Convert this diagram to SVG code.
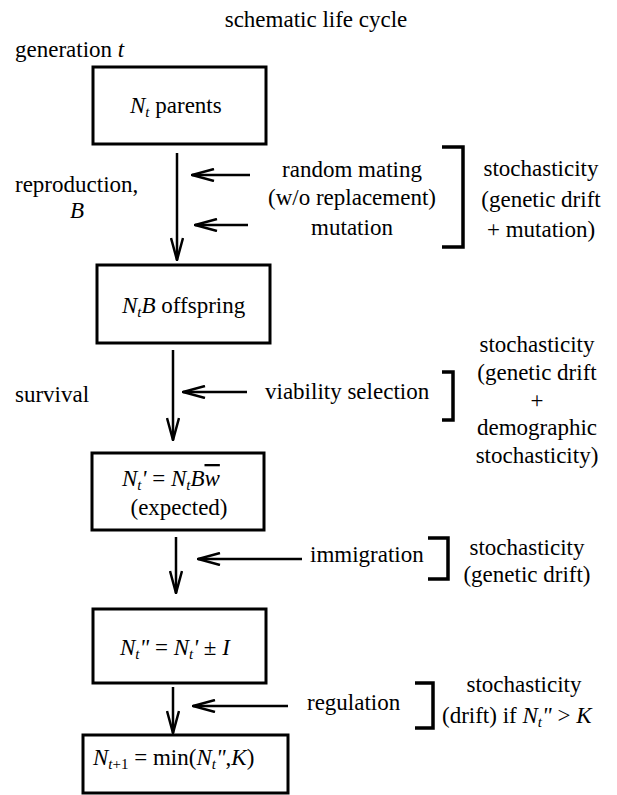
<svg xmlns="http://www.w3.org/2000/svg" width="617" height="795" viewBox="0 0 617 795" font-family="'Liberation Serif','Times New Roman',serif">
<defs>
<style>
text{font-family:"Liberation Serif","Times New Roman",serif;font-size:23px;fill:#000}
.i{font-style:italic}
.s{font-size:15px;font-style:italic}
.box{fill:#fff;stroke:#000;stroke-width:3}
.ar{fill:none;stroke:#000;stroke-width:2.5;stroke-linecap:butt}
.br{fill:none;stroke:#000;stroke-width:3.5}
.m{text-anchor:middle}
</style>
<marker id="ah" viewBox="0 0 24 14" refX="23" refY="7" markerWidth="24" markerHeight="14" markerUnits="userSpaceOnUse" orient="auto">
<path d="M1,1 L23,7 L1,13" fill="none" stroke="#000" stroke-width="2.5"/>
</marker>
</defs>
<rect width="617" height="795" fill="#fff"/>
<text class="m" x="316" y="27">schematic life cycle</text>
<text x="15" y="57">generation <tspan class="i">t</tspan></text>
<text x="15" y="192">reproduction,</text>
<text class="m i" x="77" y="218">B</text>
<text x="15" y="402">survival</text>

<g id="n1">
<rect class="box" x="93" y="67" width="173" height="77"/>
<text x="130" y="113"><tspan class="i">N</tspan><tspan class="s" dy="4">t</tspan><tspan dy="-4"> parents</tspan></text>
</g>
<g id="n2">
<rect class="box" x="97" y="265" width="173" height="78"/>
<text x="122" y="313"><tspan class="i">N</tspan><tspan class="s" dy="4">t</tspan><tspan class="i" dy="-4">B</tspan> offspring</text>
</g>
<g id="n3">
<rect class="box" x="92" y="453" width="172" height="77"/>
<text x="122" y="486"><tspan class="i">N</tspan><tspan class="s" dy="4">t</tspan><tspan class="i" dy="-4">'</tspan> = <tspan class="i">N</tspan><tspan class="s" dy="4">t</tspan><tspan class="i" dy="-4">B</tspan><tspan class="i" text-decoration="overline">w</tspan></text>
<text class="m" x="179" y="515">(expected)</text>
</g>
<g id="n4">
<rect class="box" x="93" y="609" width="173" height="74"/>
<text x="120" y="655"><tspan class="i">N</tspan><tspan class="s" dy="4">t</tspan><tspan class="i" dy="-4">"</tspan> = <tspan class="i">N</tspan><tspan class="s" dy="4">t</tspan><tspan class="i" dy="-4">'</tspan> ± <tspan class="i">I</tspan></text>
</g>
<g id="n5">
<rect class="box" x="83" y="735" width="205" height="58"/>
<text x="93" y="765"><tspan class="i">N</tspan><tspan class="s" dy="4">t</tspan><tspan font-size="15">+1</tspan><tspan dy="-4"> = min(</tspan><tspan class="i">N</tspan><tspan class="s" dy="4">t</tspan><tspan class="i" dy="-4">"</tspan>,<tspan class="i">K</tspan>)</text>
</g>

<g id="labels">
<text class="m" x="352" y="177">random mating</text>
<text class="m" x="352" y="205">(w/o replacement)</text>
<text class="m" x="352" y="235">mutation</text>
<text class="m" x="541" y="176">stochasticity</text>
<text class="m" x="541" y="207">(genetic drift</text>
<text class="m" x="541" y="237">+ mutation)</text>

<text x="265" y="399">viability selection</text>
<text class="m" x="537" y="352">stochasticity</text>
<text class="m" x="537" y="380">(genetic drift</text>
<text class="m" x="537" y="408">+</text>
<text class="m" x="537" y="435">demographic</text>
<text class="m" x="537" y="463">stochasticity)</text>

<text x="310" y="562">immigration</text>
<text class="m" x="527" y="555">stochasticity</text>
<text class="m" x="527" y="582">(genetic drift)</text>

<text x="307" y="710">regulation</text>
<text class="m" x="524" y="692">stochasticity</text>
<text x="442" y="723">(drift) if <tspan class="i">N</tspan><tspan class="s" dy="4">t</tspan><tspan class="i" dy="-4">"</tspan> &gt; <tspan class="i">K</tspan></text>
</g>

<g id="connectors">
<line class="ar" x1="177" y1="153" x2="177" y2="260" marker-end="url(#ah)"/>
<line class="ar" x1="250" y1="175" x2="192" y2="175" marker-end="url(#ah)"/>
<line class="ar" x1="248" y1="225" x2="195" y2="225" marker-end="url(#ah)"/>
<line class="ar" x1="173" y1="350" x2="173" y2="440" marker-end="url(#ah)"/>
<line class="ar" x1="247" y1="392" x2="183" y2="392" marker-end="url(#ah)"/>
<line class="ar" x1="176" y1="537" x2="176" y2="593" marker-end="url(#ah)"/>
<line class="ar" x1="302" y1="559" x2="198" y2="559" marker-end="url(#ah)"/>
<line class="ar" x1="173" y1="687" x2="173" y2="733" marker-end="url(#ah)"/>
<line class="ar" x1="288" y1="706" x2="193" y2="706" marker-end="url(#ah)"/>
<path class="br" d="M442,147 H463 V247 H442"/>
<path class="br" d="M442,372 H453 V420 H442"/>
<path class="br" d="M428,538 H448 V579 H428"/>
<path class="br" d="M415,683 H433 V728 H415"/>
</g>
</svg>
